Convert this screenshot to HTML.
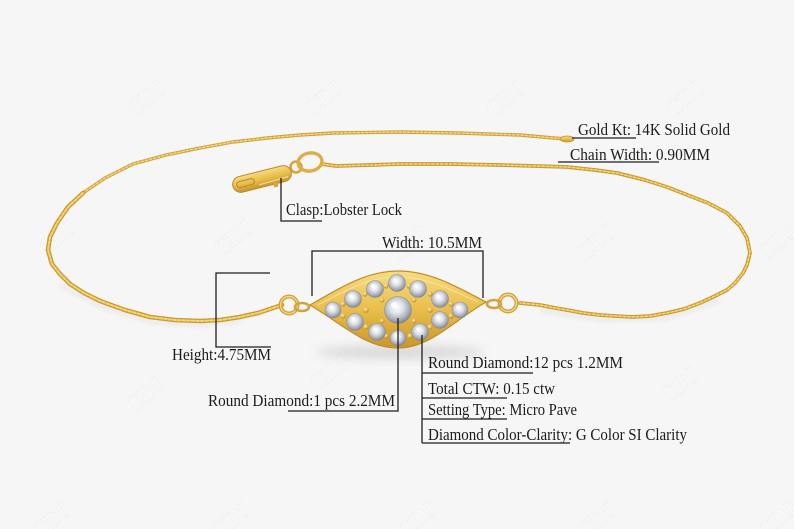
<!DOCTYPE html>
<html>
<head>
<meta charset="utf-8">
<style>
  html,body{margin:0;padding:0;background:#f6f6f6;}
  svg{display:block;}
  .lbl{font-family:"Liberation Serif",serif;font-size:16.5px;fill:#1c1c1c;}
  .wm{font-family:"Liberation Serif",serif;font-size:24px;fill:#fafafa;stroke:#ededed;stroke-width:0.5;}
</style>
</head>
<body>
<svg width="794" height="529" viewBox="0 0 794 529" xmlns="http://www.w3.org/2000/svg">
  <defs>
    <linearGradient id="gold" x1="0" y1="0" x2="0" y2="1">
      <stop offset="0" stop-color="#f7dc80"/>
      <stop offset="0.5" stop-color="#e9be4c"/>
      <stop offset="1" stop-color="#c9962b"/>
    </linearGradient>
    <radialGradient id="dia" cx="0.45" cy="0.4" r="0.6">
      <stop offset="0" stop-color="#ffffff"/>
      <stop offset="0.4" stop-color="#dfe2e8"/>
      <stop offset="0.8" stop-color="#a5a9b2"/>
      <stop offset="1" stop-color="#7f838c"/>
    </radialGradient>
    <radialGradient id="bead" cx="0.4" cy="0.35" r="0.65">
      <stop offset="0" stop-color="#fff1b8"/>
      <stop offset="0.5" stop-color="#e6bf58"/>
      <stop offset="1" stop-color="#b98a25"/>
    </radialGradient>
    <filter id="blur" x="-50%" y="-50%" width="200%" height="200%">
      <feGaussianBlur stdDeviation="5"/>
    </filter>
    <filter id="blur2" x="-50%" y="-50%" width="200%" height="200%">
      <feGaussianBlur stdDeviation="2"/>
    </filter>
  </defs>

  <rect x="0" y="0" width="794" height="529" fill="#f6f6f6"/>

  <!-- watermarks -->
  <g class="wm">
    <text transform="translate(135,118) rotate(-40)">CDJ</text>
    <text transform="translate(312,118) rotate(-40)">CDJ</text>
    <text transform="translate(494,118) rotate(-40)">CDJ</text>
    <text transform="translate(674,118) rotate(-40)">CDJ</text>
    <text transform="translate(45,258) rotate(-40)">CDJ</text>
    <text transform="translate(222,258) rotate(-40)">CDJ</text>
    <text transform="translate(396,265) rotate(-40)">CDJ</text>
    <text transform="translate(585,262) rotate(-40)">CDJ</text>
    <text transform="translate(765,262) rotate(-40)">CDJ</text>
    <text transform="translate(133,415) rotate(-40)">CDJ</text>
    <text transform="translate(318,392) rotate(-40)">CDJ</text>
    <text transform="translate(668,405) rotate(-40)">CDJ</text>
    <text transform="translate(40,540) rotate(-40)">CDJ</text>
    <text transform="translate(220,540) rotate(-40)">CDJ</text>
    <text transform="translate(405,540) rotate(-40)">CDJ</text>
    <text transform="translate(585,540) rotate(-40)">CDJ</text>
    <text transform="translate(765,540) rotate(-40)">CDJ</text>
  </g>

  <!-- soft shadows -->
  <ellipse cx="400" cy="352" rx="85" ry="7" fill="#9a9a9a" opacity="0.3" filter="url(#blur)"/>
  <polyline points="60,285 100,306 150,322 200,325 240,321" fill="none" stroke="#d0d0d0" stroke-width="4" opacity="0.35" filter="url(#blur2)"/>
  <polyline points="540,310 600,320 667,318 720,300" fill="none" stroke="#d0d0d0" stroke-width="4" opacity="0.35" filter="url(#blur2)"/>

  <!-- back chain (top, thinner) -->
  <g fill="none" stroke-linecap="round" stroke-linejoin="round">
    <polyline points="565,139 520,135 457,133 400,132 333,133 300,135 267,138 233,142 200,148 166,155 133,164 105,178 83,193"
      stroke="#d2a23a" stroke-width="3.4"/>
    <polyline points="565,139 520,135 457,133 400,132 333,133 300,135 267,138 233,142 200,148 166,155 133,164 105,178 83,193"
      stroke="#f3d98a" stroke-width="1.4" stroke-dasharray="2.2 2"/>
    <!-- left front chain -->
    <polyline points="83,193 68,207 57,223 50,237 48,250 52,264 60,274 70,284 84,293 100,301 125,310 150,317 175,320 200,321 220,320 240,317 258,313 273,308 282,305"
      stroke="#cd9a2c" stroke-width="4.6"/>
    <polyline points="83,193 68,207 57,223 50,237 48,250 52,264 60,274 70,284 84,293 100,301 125,310 150,317 175,320 200,321 220,320 240,317 258,313 273,308 282,305"
      stroke="#f2d57e" stroke-width="2" stroke-dasharray="2.6 2"/>
    <!-- right chain from ring -->
    <polyline points="322,164 336,166 370,165 400,164 450,164 500,165 535,166 567,167 595,170 617,173 645,180 667,187 690,196 708,203 727,213 740,226 747,238 750,253 747,265 743,273 735,283 727,290 713,297 700,303 684,309 667,313 650,316 633,317 615,316 600,315 583,313 567,310 550,307 540,305 520,303"
      stroke="#cd9a2c" stroke-width="3.8"/>
    <polyline points="322,164 336,166 370,165 400,164 450,164 500,165 535,166 567,167 595,170 617,173 645,180 667,187 690,196 708,203 727,213 740,226 747,238 750,253 747,265 743,273 735,283 727,290 713,297 700,303 684,309 667,313 650,316 633,317 615,316 600,315 583,313 567,310 550,307 540,305 520,303"
      stroke="#f2d57e" stroke-width="1.6" stroke-dasharray="2.4 2"/>
  </g>

  <!-- tag at end of back chain -->
  <ellipse cx="567" cy="139" rx="7" ry="3" fill="url(#gold)" stroke="#c29030" stroke-width="0.8"/>

  <!-- clasp -->
  <g>
    <circle cx="296" cy="167" r="5.5" fill="none" stroke="#d3a43f" stroke-width="2.6"/>
    <ellipse cx="310" cy="162" rx="12" ry="9" transform="rotate(-10 310 162)" fill="none" stroke="#dcae48" stroke-width="3.4"/>
    <g transform="translate(262,179) rotate(-14)">
      <rect x="-30" y="-8" width="60" height="16" rx="8" fill="url(#gold)" stroke="#b9882a" stroke-width="1"/>
      <rect x="-26" y="-3" width="18" height="6" rx="3" fill="none" stroke="#b9882a" stroke-width="1"/>
      <line x1="-4" y1="5" x2="26" y2="4" stroke="#f7e3a0" stroke-width="1"/>
      <circle cx="12" cy="9" r="2.5" fill="#d6a843"/>
    </g>
  </g>

  <!-- connector rings -->
  <g fill="none">
    <circle cx="289" cy="305" r="8.5" stroke="#d3a23c" stroke-width="4"/>
    <circle cx="289" cy="305" r="8.5" stroke="#f5dc8e" stroke-width="1.2"/>
    <ellipse cx="302" cy="307" rx="7" ry="4" stroke="#d3a23c" stroke-width="2.6"/>
    <circle cx="508" cy="303" r="8.5" stroke="#d3a23c" stroke-width="4"/>
    <circle cx="508" cy="303" r="8.5" stroke="#f5dc8e" stroke-width="1.2"/>
    <ellipse cx="494" cy="304" rx="7" ry="4" stroke="#d3a23c" stroke-width="2.6"/>
  </g>

  <!-- pendant -->
  <path d="M310,305 C345,285 368,271 398,271 C428,271 452,284 486,302 C452,322 430,348 398,348 C366,348 345,326 310,305 Z"
        fill="url(#gold)" stroke="#bf8d2a" stroke-width="1.2"/>
  <path d="M318,305 C350,288 370,277 398,277 C426,277 448,288 478,302" fill="none" stroke="#f8e4a2" stroke-width="1.2" opacity="0.8"/>

  <!-- beads -->
  <g fill="url(#bead)">
    <circle cx="343" cy="304" r="2.6"/><circle cx="343" cy="316" r="2.6"/>
    <circle cx="365" cy="294" r="2.6"/><circle cx="366" cy="310" r="2.8"/><circle cx="366" cy="327" r="2.6"/>
    <circle cx="386" cy="286" r="2.6"/><circle cx="386" cy="336" r="2.6"/>
    <circle cx="409" cy="286" r="2.6"/><circle cx="410" cy="336" r="2.6"/>
    <circle cx="430" cy="294" r="2.6"/><circle cx="430" cy="310" r="2.8"/><circle cx="430" cy="327" r="2.6"/>
    <circle cx="451" cy="304" r="2.6"/><circle cx="451" cy="316" r="2.6"/>
    <circle cx="382" cy="300" r="2.4"/><circle cx="414" cy="300" r="2.4"/>
    <circle cx="382" cy="321" r="2.4"/><circle cx="414" cy="321" r="2.4"/>
  </g>

  <!-- diamonds -->
  <g fill="url(#dia)" stroke="#8d919a" stroke-width="0.6">
    <circle cx="333" cy="310" r="8"/>
    <circle cx="353" cy="299" r="8.5"/>
    <circle cx="355" cy="322" r="8.5"/>
    <circle cx="375" cy="289" r="8.5"/>
    <circle cx="377" cy="332" r="8.5"/>
    <circle cx="397" cy="283" r="8.5"/>
    <circle cx="398" cy="310" r="13.5"/>
    <circle cx="398" cy="338" r="8"/>
    <circle cx="418" cy="289" r="8.5"/>
    <circle cx="420" cy="332" r="8.5"/>
    <circle cx="440" cy="299" r="8.5"/>
    <circle cx="440" cy="320" r="8.5"/>
    <circle cx="460" cy="310" r="8"/>
  </g>
  <g fill="#ffffff" opacity="0.9">
    <circle cx="394" cy="305" r="3"/>
    <circle cx="331" cy="307" r="1.8"/><circle cx="351" cy="296" r="1.8"/><circle cx="353" cy="319" r="1.8"/>
    <circle cx="373" cy="286" r="1.8"/><circle cx="375" cy="329" r="1.8"/><circle cx="395" cy="280" r="1.8"/>
    <circle cx="396" cy="335" r="1.8"/><circle cx="416" cy="286" r="1.8"/><circle cx="418" cy="329" r="1.8"/>
    <circle cx="438" cy="296" r="1.8"/><circle cx="438" cy="317" r="1.8"/><circle cx="458" cy="307" r="1.8"/>
  </g>

  <!-- annotation lines -->
  <g fill="none" stroke="#1e1e1e" stroke-width="1.3">
    <line x1="572" y1="138" x2="636" y2="138"/>
    <line x1="558" y1="162" x2="659" y2="162"/>
    <polyline points="281,178 281,221 322,221"/>
    <polyline points="312,296 312,251 483,251 483,298"/>
    <polyline points="270,273 216,273 216,347 271,347"/>
    <polyline points="398,318 398,411 288,411"/>
    <line x1="422" y1="335" x2="422" y2="443"/>
    <line x1="422" y1="373" x2="533" y2="373"/>
    <line x1="422" y1="398" x2="507" y2="398"/>
    <line x1="422" y1="419" x2="507" y2="419"/>
    <line x1="422" y1="443" x2="570" y2="443"/>
  </g>

  <!-- labels -->
  <g class="lbl">
    <text x="578" y="135" textLength="152" lengthAdjust="spacingAndGlyphs">Gold Kt: 14K Solid Gold</text>
    <text x="570" y="160" textLength="140" lengthAdjust="spacingAndGlyphs">Chain Width: 0.90MM</text>
    <text x="286" y="215" textLength="116" lengthAdjust="spacingAndGlyphs">Clasp:Lobster Lock</text>
    <text x="382" y="248" textLength="100" lengthAdjust="spacingAndGlyphs">Width: 10.5MM</text>
    <text x="172" y="360" textLength="99" lengthAdjust="spacingAndGlyphs">Height:4.75MM</text>
    <text x="428" y="368" textLength="195" lengthAdjust="spacingAndGlyphs">Round Diamond:12 pcs 1.2MM</text>
    <text x="428" y="394" textLength="127" lengthAdjust="spacingAndGlyphs">Total CTW: 0.15 ctw</text>
    <text x="428" y="415" textLength="149" lengthAdjust="spacingAndGlyphs">Setting Type: Micro Pave</text>
    <text x="428" y="440" textLength="259" lengthAdjust="spacingAndGlyphs">Diamond Color-Clarity: G Color SI Clarity</text>
    <text x="208" y="406" textLength="187" lengthAdjust="spacingAndGlyphs">Round Diamond:1 pcs 2.2MM</text>
  </g>
</svg>
</body>
</html>
